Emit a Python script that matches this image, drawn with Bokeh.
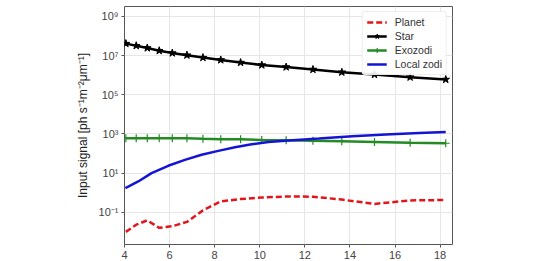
from bokeh.plotting import figure
from bokeh.models import Range1d, FixedTicker, Legend, LegendItem
from bokeh.embed import file_html
from bokeh.resources import INLINE

# wavelength bins [um]
wavelength = [4.06, 4.52, 5.01, 5.54, 6.12, 6.77, 7.48, 8.27, 9.15, 10.09, 11.17, 12.36, 13.64, 15.09, 16.67, 18.25]
planet = [0.0098, 0.0229, 0.038, 0.0158, 0.019, 0.0316, 0.123, 0.355, 0.468, 0.562, 0.631, 0.617, 0.437, 0.263, 0.398, 0.417]
star = [4.1e7, 3.2e7, 2.45e7, 1.78e7, 1.35e7, 1.05e7, 7.9e6, 6.0e6, 4.4e6, 3.3e6, 2.6e6, 1.95e6, 1.41e6, 1.07e6, 7.9e5, 6.0e5]
exozodi = [603, 603, 603, 603, 589, 589, 562, 537, 525, 490, 468, 447, 417, 389, 355, 331]
lz_wavelength = [4.04, 4.61, 5.2, 5.94, 6.68, 7.42, 8.16, 8.90, 9.64, 10.39, 11.13, 12.62, 14.11, 15.59, 17.07, 18.25]
local_zodi = [1.7, 3.7, 9.8, 23.4, 46.8, 85.1, 135, 209, 295, 380, 447, 575, 759, 933, 1096, 1230]

x_ticks = [4, 6, 8, 10, 12, 14, 16, 18]
y_ticks = [1e-1, 1e1, 1e3, 1e5, 1e7, 1e9]
y_tick_labels = ["10\u207b\u00b9", "10\u00b9", "10\u00b3", "10\u2075", "10\u2077", "10\u2079"]

FONT = "Liberation Sans"
W, H = 533, 261
top, bottom = 6, 245
px_per_dec = 19.65
y_top = 9 + 10 / px_per_dec
y_bot = y_top - (bottom - top) / px_per_dec

p = figure(width=W, height=H, y_axis_type="log", output_backend="svg", toolbar_location=None,
           x_range=Range1d(4.0, 18.55), y_range=Range1d(10 ** y_bot, 10 ** y_top),
           min_border_left=124, min_border_right=W - 452, min_border_top=top, min_border_bottom=0)
p.background_fill_color = "white"
p.border_fill_color = "white"
p.outline_line_color = "#555555"
p.outline_line_width = 1

p.xaxis.ticker = FixedTicker(ticks=x_ticks)
p.yaxis.ticker = FixedTicker(ticks=y_ticks)
p.yaxis.major_label_overrides = {t: l for t, l in zip(y_ticks, y_tick_labels)}
for ax in (p.xaxis[0], p.yaxis[0]):
    ax.axis_line_color = None
    ax.major_tick_line_color = "#555555"
    ax.major_tick_out = 3
    ax.major_tick_in = 0
    ax.minor_tick_line_color = None
    ax.major_label_text_font = FONT
    ax.major_label_text_font_size = "11px"
    ax.major_label_text_color = "#444444"
    ax.major_label_standoff = 3
p.yaxis.axis_label = "Input signal [ph s\u207b\u00b9m\u207b\u00b2\u03bcm\u207b\u00b9]"
p.yaxis.axis_label_text_font = FONT
p.yaxis.axis_label_text_font_size = "12px"
p.yaxis.axis_label_text_font_style = "normal"
p.yaxis.axis_label_text_color = "#222222"
p.yaxis.axis_label_standoff = 6

p.xgrid.grid_line_color = "#e6e6e6"
p.ygrid.grid_line_color = "#e6e6e6"
p.xgrid.ticker = FixedTicker(ticks=x_ticks)
p.ygrid.ticker = FixedTicker(ticks=y_ticks)

r_planet = p.line(wavelength, planet, line_color="#e0161b", line_width=2.5, line_dash="6 3")
r_star = p.line(wavelength, star, line_color="black", line_width=2.5)
s_star = p.scatter(wavelength, star, marker="star", size=8, fill_color="black", line_color="black")
r_exo = p.line(wavelength, exozodi, line_color="#238b23", line_width=2.5)
s_exo = p.scatter(wavelength, exozodi, marker="cross", size=8, line_color="#238b23", line_width=1.2)
r_lz = p.line(lz_wavelength, local_zodi, line_color="#1414d6", line_width=2.5)

legend = Legend(items=[
    LegendItem(label="Planet", renderers=[r_planet]),
    LegendItem(label="Star", renderers=[r_star, s_star]),
    LegendItem(label="Exozodi", renderers=[r_exo, s_exo]),
    LegendItem(label="Local zodi", renderers=[r_lz]),
], location="top_right")
legend.label_text_font = FONT
legend.label_text_font_size = "10.5px"
legend.label_text_color = "#333333"
legend.glyph_width = 20
legend.glyph_height = 12
legend.label_height = 12
legend.label_standoff = 8
legend.spacing = 2
legend.padding = 4
legend.margin = 5
legend.border_line_color = "#dddddd"
legend.border_radius = 3
legend.background_fill_alpha = 0.9
p.add_layout(legend)

open("out.html", "w").write(file_html(p, INLINE))
